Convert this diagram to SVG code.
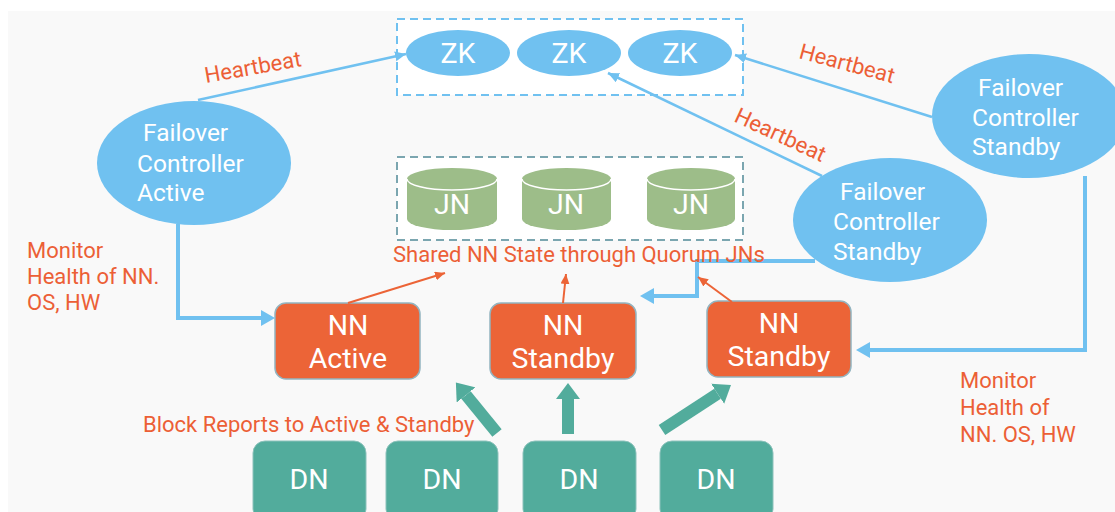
<svg xmlns="http://www.w3.org/2000/svg" width="1115" height="512" viewBox="0 0 1115 512">
  <style>
    text { font-family: Roboto, "Liberation Sans", Arial, sans-serif; }
    .lbl { fill: #ffffff; }
    .big { font-size: 28.5px; text-anchor: middle; }
    .fc { font-size: 24.5px; }
    .note { fill: #ec5f36; font-size: 22px; }
    .zk { fill: #70c1f0; }
    .nn { fill: #ec6437; stroke: #93b4c0; stroke-width: 1.5; }
    .dn { fill: #52ac9c; stroke: #8cc2bb; stroke-width: 1; }
    .jn { fill: #9dbd89; }
    .hb { stroke: #70c1f0; stroke-width: 2.5; fill: none; }
    .mon { stroke: #70c1f0; stroke-width: 4; fill: none; }
    .sync { stroke: #ec6437; stroke-width: 2; fill: none; }
    .rep { stroke: #52ac9c; stroke-width: 12; fill: none; }
  </style>
  <defs>
    <marker id="hbHead" markerUnits="userSpaceOnUse" markerWidth="12" markerHeight="10" refX="11" refY="5" orient="auto">
      <path d="M0,0 L11,5 L0,10 z" fill="#70c1f0"/>
    </marker>
    <marker id="monHead" markerUnits="userSpaceOnUse" markerWidth="16" markerHeight="18" refX="0" refY="8" orient="auto">
      <path d="M0,0 L14,8 L0,16 z" fill="#70c1f0"/>
    </marker>
    <marker id="syncHead" markerUnits="userSpaceOnUse" markerWidth="11" markerHeight="10" refX="10" refY="4.5" orient="auto">
      <path d="M0,0 L10,4.5 L0,9 z" fill="#ec6437"/>
    </marker>
    <marker id="repHead" markerUnits="userSpaceOnUse" markerWidth="18" markerHeight="24" refX="0" refY="12" orient="auto">
      <path d="M0,0 L16,12 L0,24 z" fill="#52ac9c"/>
    </marker>
  </defs>

  <!-- canvas -->
  <rect x="0" y="0" width="1115" height="512" fill="#ffffff"/>
  <rect x="8" y="11" width="1107" height="501" fill="#f9f9f9"/>

  <!-- ZooKeeper quorum -->
  <g id="zk-quorum">
    <rect x="397" y="19" width="346" height="76" fill="#ffffff" stroke="#70c1f0" stroke-width="2" stroke-dasharray="8 5"/>
  </g>
  <g id="zk1">
    <ellipse class="zk" cx="458" cy="53" rx="52" ry="23"/>
    <text class="lbl big" x="458" y="63">ZK</text>
  </g>
  <g id="zk2">
    <ellipse class="zk" cx="569" cy="53" rx="52" ry="23"/>
    <text class="lbl big" x="569" y="63">ZK</text>
  </g>
  <g id="zk3">
    <ellipse class="zk" cx="680" cy="53" rx="52" ry="23"/>
    <text class="lbl big" x="680" y="63">ZK</text>
  </g>

  <!-- JournalNode quorum -->
  <g id="jn-quorum">
    <rect x="397" y="157" width="346" height="83" fill="#ffffff" stroke="#7ba6b0" stroke-width="2" stroke-dasharray="8 5"/>
  </g>
  <g id="jn1">
    <path class="jn" d="M407,179 A45,11 0 0 1 497,179 L497,219 A45,11 0 0 1 407,219 Z"/>
    <path d="M407,179 A45,11 0 0 0 497,179" fill="none" stroke="#ffffff" stroke-width="1.5"/>
    <text class="lbl big" x="452" y="214">JN</text>
  </g>
  <g id="jn2">
    <path class="jn" d="M522,179 A44.5,11 0 0 1 611,179 L611,219 A44.5,11 0 0 1 522,219 Z"/>
    <path d="M522,179 A44.5,11 0 0 0 611,179" fill="none" stroke="#ffffff" stroke-width="1.5"/>
    <text class="lbl big" x="566" y="214">JN</text>
  </g>
  <g id="jn3">
    <path class="jn" d="M647,179 A44,11 0 0 1 735,179 L735,219 A44,11 0 0 1 647,219 Z"/>
    <path d="M647,179 A44,11 0 0 0 735,179" fill="none" stroke="#ffffff" stroke-width="1.5"/>
    <text class="lbl big" x="691" y="214">JN</text>
  </g>

  <!-- Failover controllers -->
  <g id="fc-active">
    <ellipse class="zk" cx="194" cy="163" rx="97" ry="62"/>
    <text class="lbl fc" x="143" y="141">Failover</text>
    <text class="lbl fc" x="137" y="172">Controller</text>
    <text class="lbl fc" x="137" y="201">Active</text>
  </g>
  <g id="fc-standby-1">
    <ellipse class="zk" cx="890" cy="220" rx="97" ry="62"/>
    <text class="lbl fc" x="840" y="200">Failover</text>
    <text class="lbl fc" x="833" y="230">Controller</text>
    <text class="lbl fc" x="833" y="260">Standby</text>
  </g>
  <g id="fc-standby-2">
    <ellipse class="zk" cx="1029" cy="116" rx="97" ry="62"/>
    <text class="lbl fc" x="978" y="96">Failover</text>
    <text class="lbl fc" x="972" y="126">Controller</text>
    <text class="lbl fc" x="972" y="155">Standby</text>
  </g>

  <!-- NameNodes -->
  <g id="nn-active">
    <rect class="nn" x="275" y="303" width="145" height="76" rx="11"/>
    <text class="lbl big" x="348" y="335">NN</text>
    <text class="lbl big" x="348" y="368">Active</text>
  </g>
  <g id="nn-standby-1">
    <rect class="nn" x="490" y="303" width="146" height="76" rx="11"/>
    <text class="lbl big" x="563" y="335">NN</text>
    <text class="lbl big" x="563" y="368">Standby</text>
  </g>
  <g id="nn-standby-2">
    <rect class="nn" x="707" y="301" width="144" height="76" rx="11"/>
    <text class="lbl big" x="779" y="333">NN</text>
    <text class="lbl big" x="779" y="366">Standby</text>
  </g>

  <!-- DataNodes -->
  <g id="dn1">
    <rect class="dn" x="253" y="441" width="113" height="80" rx="12"/>
    <text class="lbl big" x="309" y="489">DN</text>
  </g>
  <g id="dn2">
    <rect class="dn" x="386" y="441" width="112" height="80" rx="12"/>
    <text class="lbl big" x="442" y="489">DN</text>
  </g>
  <g id="dn3">
    <rect class="dn" x="523" y="441" width="113" height="80" rx="12"/>
    <text class="lbl big" x="579" y="489">DN</text>
  </g>
  <g id="dn4">
    <rect class="dn" x="660" y="441" width="113" height="80" rx="12"/>
    <text class="lbl big" x="716" y="489">DN</text>
  </g>

  <!-- connectors -->
  <g id="connectors">
    <!-- heartbeats to ZooKeeper -->
    <line class="hb" x1="198" y1="100" x2="406" y2="54" marker-end="url(#hbHead)"/>
    <line class="hb" x1="932" y1="117" x2="735" y2="55" marker-end="url(#hbHead)"/>
    <line class="hb" x1="822" y1="176" x2="608" y2="73" marker-end="url(#hbHead)"/>
    <!-- health monitoring -->
    <path class="mon" d="M178,224 V318 H261" marker-end="url(#monHead)"/>
    <path class="mon" d="M1085,176 V350 H870" marker-end="url(#monHead)"/>
    <path class="mon" d="M815,261 H697 V296 H654" marker-end="url(#monHead)"/>
    <!-- edits to JournalNodes -->
    <line class="sync" x1="348" y1="303" x2="445" y2="273" marker-end="url(#syncHead)"/>
    <line class="sync" x1="563" y1="303" x2="566" y2="274" marker-end="url(#syncHead)"/>
    <line class="sync" x1="732" y1="302" x2="698" y2="277" marker-end="url(#syncHead)"/>
    <!-- block reports -->
    <line class="rep" x1="497" y1="433" x2="466" y2="395" marker-end="url(#repHead)"/>
    <line class="rep" x1="568" y1="434" x2="568" y2="399" marker-end="url(#repHead)"/>
    <line class="rep" x1="662" y1="430" x2="717.6" y2="393.7" marker-end="url(#repHead)"/>
  </g>

  <!-- annotations -->
  <g id="labels">
    <text class="note" x="206" y="83" transform="rotate(-10 206 83)">Heartbeat</text>
    <text class="note" x="798" y="58" transform="rotate(15 798 58)">Heartbeat</text>
    <text class="note" x="733" y="121" transform="rotate(25 733 121)">Heartbeat</text>
    <text class="note" x="393" y="262">Shared NN State through Quorum JNs</text>
    <text class="note" x="27" y="258">Monitor</text>
    <text class="note" x="27" y="284">Health of NN.</text>
    <text class="note" x="27" y="310">OS, HW</text>
    <text class="note" x="960" y="388">Monitor</text>
    <text class="note" x="960" y="415">Health of</text>
    <text class="note" x="960" y="442">NN. OS, HW</text>
    <text class="note" x="143" y="432">Block Reports to Active &amp; Standby</text>
  </g>
</svg>
